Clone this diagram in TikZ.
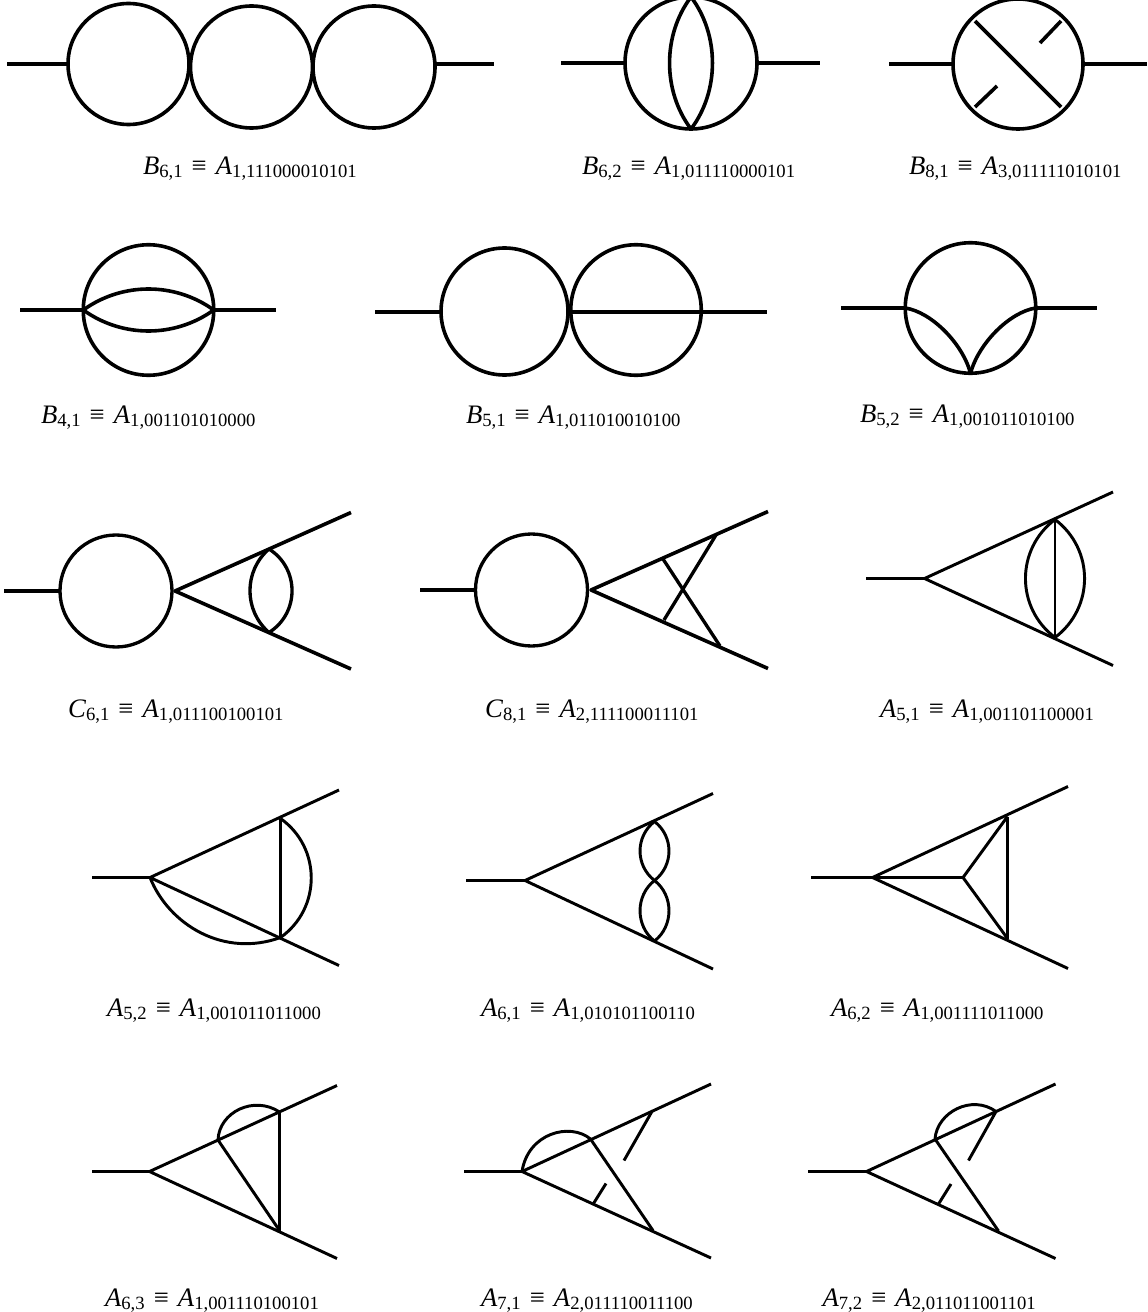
\documentclass[tikz,border=0pt]{standalone}
\usepackage{fontspec}
\setmainfont{Liberation Serif}
\newcommand{\mylab}[4]{\fontsize{20pt}{22pt}\selectfont\textit{#1}\raisebox{-0.125em}{\fontsize{14pt}{15pt}\selectfont #2}\kern0.34em≡\kern0.34em\textit{#3}\raisebox{-0.125em}{\fontsize{14pt}{15pt}\selectfont #4}}
\tikzset{
  x=0.75pt,y=-0.75pt,
  heavy/.style={line width=2.7pt,line join=round},
  medium/.style={line width=2.5pt,line join=round},
  light/.style={line width=2.2pt,line join=round},
  loopc/.style={circle,draw,line width=2.7pt,inner sep=0pt,outer sep=0pt},
  loopm/.style={circle,draw,line width=2.5pt,inner sep=0pt,outer sep=0pt},
  lab/.style={anchor=base west,inner sep=0pt,outer sep=0pt,yshift=-1.9pt}
}
\begin{document}
\begin{tikzpicture}
\useasboundingbox (0,0) rectangle (1147,1312);
% B6,1
\coordinate (a1) at (7,64); \coordinate (a2) at (494,64);
\node[loopc,minimum size=121*0.75pt] (a3) at (128.5,64) {};
\node[loopc,minimum size=122*0.75pt] (a4) at (251.5,67) {};
\node[loopc,minimum size=122*0.75pt] (a5) at (374,67) {};
\draw[heavy] (a1) -- (a3.west);
\draw[heavy] (a5.east|-a2) -- (a2);
\node[lab] (la) at (143,172) {\mylab{B}{6,1}{A}{1,111000010101}};
% B6,2
\coordinate (b1) at (561,63); \coordinate (b2) at (820,63);
\node[loopc,minimum size=132*0.75pt] (b3) at (691,63) {};
\draw[heavy] (b1) -- (b3.west);
\draw[heavy] (b3.east) -- (b2);
\draw[heavy] (b3.north) .. controls +(-28.6,37.8) and +(-28.6,-37.8) .. (b3.south);
\draw[heavy] (b3.north) .. controls +(28.6,37.8) and +(28.6,-37.8) .. (b3.south);
\node[lab] (lb) at (582,172) {\mylab{B}{6,2}{A}{1,011110000101}};
% B8,1
\coordinate (c1) at (889,64); \coordinate (c2) at (1147,64);
\node[loopc,minimum size=130*0.75pt] (c3) at (1018,64) {};
\draw[heavy] (c1) -- (c3.west);
\draw[heavy] (c3.east) -- (c2);
\coordinate (c4) at (975,21); \coordinate (c5) at (1061,107);
\coordinate (c6) at (1061,21); \coordinate (c7) at (1040,43);
\coordinate (c8) at (997,86); \coordinate (c9) at (975,107);
\draw[heavy] (c4) -- (c5);
\draw[heavy] (c6) -- (c7);
\draw[heavy] (c8) -- (c9);
\node[lab] (lc) at (909,172) {\mylab{B}{8,1}{A}{3,011111010101}};
% B4,1
\coordinate (d1) at (20,310); \coordinate (d2) at (276,310);
\node[loopc,minimum size=130.5*0.75pt] (d3) at (148.5,310) {};
\draw[heavy] (d1) -- (d3.west);
\draw[heavy] (d3.east) -- (d2);
\draw[heavy] (d3.west) .. controls +(39,-28) and +(-39,-28) .. (d3.east);
\draw[heavy] (d3.west) .. controls +(39,28) and +(-39,28) .. (d3.east);
\node[lab] (ld) at (41,421) {\mylab{B}{4,1}{A}{1,001101010000}};
% B5,1
\coordinate (e1) at (375,312); \coordinate (e2) at (767,312);
\node[loopc,minimum size=127*0.75pt] (e3) at (504.5,311.5) {};
\node[loopc,minimum size=130.5*0.75pt] (e4) at (636,310) {};
\draw[heavy] (e1) -- (e3.west|-e1);
\draw[heavy] (e4.west|-e2) -- (e2);
\node[lab] (le) at (466,421) {\mylab{B}{5,1}{A}{1,011010010100}};
% B5,2
\coordinate (f1) at (841,308); \coordinate (f2) at (1097,308);
\node[loopc,minimum size=130.5*0.75pt] (f3) at (970.5,308) {};
\draw[heavy] (f1) -- (f3.west);
\draw[heavy] (f3.east) -- (f2);
\draw[heavy] (f3.west) .. controls +(26,4) and +(-8,-30) .. (f3.south);
\draw[heavy] (f3.east) .. controls +(-26,4) and +(8,-30) .. (f3.south);
\node[lab] (lf) at (860,420) {\mylab{B}{5,2}{A}{1,001011010100}};
% C6,1
\coordinate (g1) at (4,591); \coordinate (g2) at (175,591);
\coordinate (g3) at (351,512.5); \coordinate (g4) at (351,669);
\coordinate (g5) at (269,549); \coordinate (g6) at (269,632.5);
\node[loopm,minimum size=112*0.75pt] (g7) at (116,591) {};
\draw[heavy] (g1) -- (g7.west);
\draw[heavy] (g3) -- (g2) -- (g4);
\draw[medium] (g5) .. controls +(-25.4,22) and +(-25.4,-22) .. (g6);
\draw[medium] (g5) .. controls +(30.7,19.4) and +(30.7,-19.4) .. (g6);
\node[lab] (lg) at (68,715) {\mylab{C}{6,1}{A}{1,011100100101}};
% C8,1
\coordinate (h1) at (420,590); \coordinate (h2) at (591,590);
\coordinate (h3) at (768,511.5); \coordinate (h4) at (768,668.5);
\coordinate (h5) at (663,559); \coordinate (h6) at (720,646);
\coordinate (h7) at (716,535); \coordinate (h8) at (664,620);
\node[loopm,minimum size=112*0.75pt] (h9) at (531.5,590) {};
\draw[heavy] (h1) -- (h9.west);
\draw[heavy] (h3) -- (h2) -- (h4);
\draw[medium] (h5) -- (h6);
\draw[medium] (h7) -- (h8);
\node[lab] (lh) at (485,715) {\mylab{C}{8,1}{A}{2,111100011101}};
% A5,1
\coordinate (i1) at (866,578.5); \coordinate (i2) at (924.5,578.5);
\coordinate (i3) at (1113,492); \coordinate (i4) at (1113,665.5);
\coordinate (i5) at (1055,519.5); \coordinate (i6) at (1055,637.5);
\draw[light] (i1) -- (i2);
\draw[light] (i3) -- (i2) -- (i4);
\draw[light] (i5) -- (i6);
\draw[light] (i5) .. controls +(-39.4,29.7) and +(-39.4,-29.7) .. (i6);
\draw[light] (i5) .. controls +(39.4,29.7) and +(39.4,-29.7) .. (i6);
\node[lab] (li) at (880,715) {\mylab{A}{5,1}{A}{1,001101100001}};
% A5,2
\coordinate (j1) at (92,877.5); \coordinate (j2) at (150,877.5);
\coordinate (j3) at (339,790); \coordinate (j4) at (339,965.5);
\coordinate (j5) at (280.5,818.5); \coordinate (j6) at (280.5,937.5);
\draw[light] (j1) -- (j2);
\draw[light] (j3) -- (j2) -- (j4);
\draw[light] (j5) -- (j6);
\draw[light] (j5) .. controls +(41,29) and +(41,-29) .. (j6);
\draw[light] (j2) .. controls (169,925) and (224,958) .. (j6);
\node[lab] (lj) at (107,1014) {\mylab{A}{5,2}{A}{1,001011011000}};
% A6,1
\coordinate (k1) at (466,880.5); \coordinate (k2) at (525,880.5);
\coordinate (k3) at (713,793.5); \coordinate (k4) at (713,969);
\coordinate (k5) at (654.5,821.5); \coordinate (k6) at (654.5,880.5); \coordinate (k7) at (654.5,941);
\draw[light] (k1) -- (k2);
\draw[light] (k3) -- (k2) -- (k4);
\draw[light] (k5) .. controls +(-19.3,15) and +(-19.3,-15) .. (k6);
\draw[light] (k5) .. controls +(19.3,15) and +(19.3,-15) .. (k6);
\draw[light] (k6) .. controls +(-19.3,15) and +(-19.3,-15) .. (k7);
\draw[light] (k6) .. controls +(19.3,15) and +(19.3,-15) .. (k7);
\node[lab] (lk) at (481,1014) {\mylab{A}{6,1}{A}{1,010101100110}};
% A6,2
\coordinate (m1) at (811,877.5); \coordinate (m2) at (872.5,877.5);
\coordinate (m3) at (1068,786.5); \coordinate (m4) at (1068,968.5);
\coordinate (m5) at (1007.5,816.5); \coordinate (m6) at (1007.5,938.5);
\coordinate (m7) at (963,877.5);
\draw[light] (m1) -- (m7);
\draw[light] (m3) -- (m2) -- (m4);
\draw[light] (m5) -- (m6);
\draw[light] (m5) -- (m7) -- (m6);
\node[lab] (lm) at (831,1014) {\mylab{A}{6,2}{A}{1,001111011000}};
% A6,3
\coordinate (n1) at (92,1171.5); \coordinate (n2) at (149.5,1171.5);
\coordinate (n3) at (337,1085.5); \coordinate (n4) at (337,1258.5);
\coordinate (n5) at (218,1140); \coordinate (n6) at (279.5,1112); \coordinate (n7) at (279.5,1230.5);
\draw[light] (n1) -- (n2);
\draw[light] (n3) -- (n2) -- (n4);
\draw[light] (n5) -- (n7);
\draw[light] (n6) -- (n7);
\draw[light] (n5) .. controls (219,1112) and (254,1095) .. (n6);
\node[lab] (ln) at (105,1304) {\mylab{A}{6,3}{A}{1,001110100101}};
% A7,1
\coordinate (o1) at (464,1171.5); \coordinate (o2) at (522,1171.5);
\coordinate (o3) at (711,1084); \coordinate (o4) at (711,1258);
\coordinate (o5) at (590.5,1139); \coordinate (o6) at (652.5,1110.5); \coordinate (o7) at (653,1230.5);
\coordinate (o8) at (624,1160.5); \coordinate (o9) at (593.5,1203.5); \coordinate (o10) at (606,1183.5);
\draw[light] (o1) -- (o2);
\draw[light] (o3) -- (o2) -- (o4);
\draw[light] (o5) -- (o7);
\draw[light] (o6) -- (o8);
\draw[light] (o9) -- (o10);
\draw[light] (o2) .. controls (528,1133) and (570,1122) .. (o5);
\node[lab] (lo) at (481,1304) {\mylab{A}{7,1}{A}{2,011110011100}};
% A7,2
\coordinate (p1) at (808,1171.5); \coordinate (p2) at (866.5,1171.5);
\coordinate (p3) at (1055.5,1084); \coordinate (p4) at (1055.5,1258.5);
\coordinate (p5) at (935,1139); \coordinate (p6) at (996,1111.5); \coordinate (p7) at (998.5,1231);
\coordinate (p8) at (968.5,1160.5); \coordinate (p9) at (938.5,1204); \coordinate (p10) at (951,1184);
\draw[light] (p1) -- (p2);
\draw[light] (p3) -- (p2) -- (p4);
\draw[light] (p5) -- (p7);
\draw[light] (p6) -- (p8);
\draw[light] (p9) -- (p10);
\draw[light] (p5) .. controls (937,1112) and (972,1094) .. (p6);
\node[lab] (lp) at (822.5,1304) {\mylab{A}{7,2}{A}{2,011011001101}};
\end{tikzpicture}
\end{document}
